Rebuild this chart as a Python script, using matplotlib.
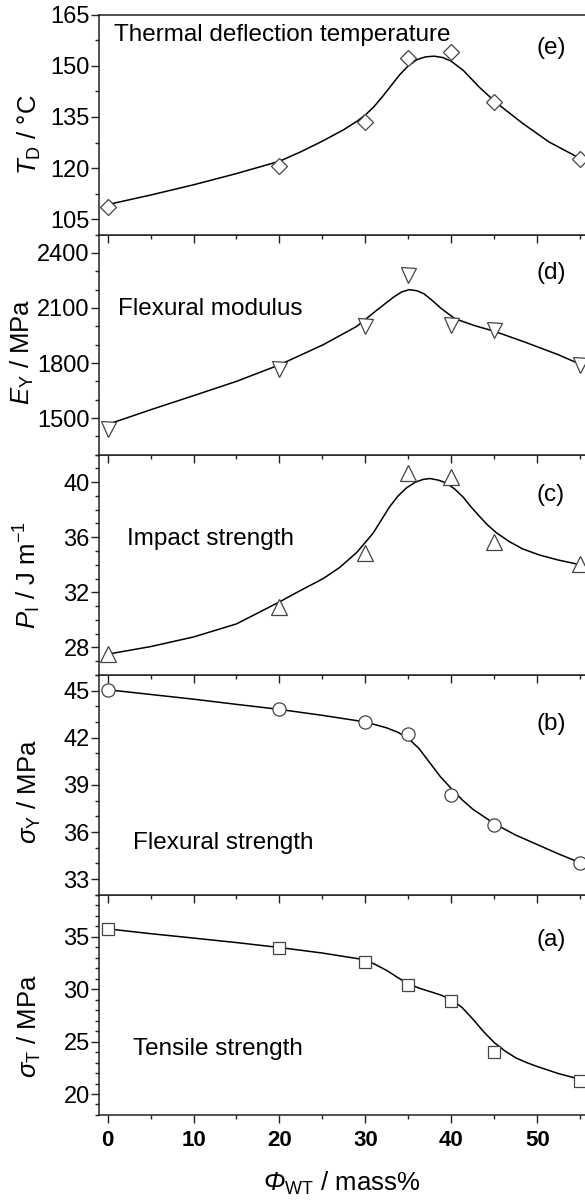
import matplotlib.pyplot as plt
from matplotlib.ticker import MultipleLocator

plt.rcParams["font.family"] = ["Liberation Sans", "DejaVu Sans"]
plt.rcParams["mathtext.fontset"] = "custom"
plt.rcParams["mathtext.rm"] = "Liberation Sans"
plt.rcParams["mathtext.it"] = "Liberation Sans:italic"
plt.rcParams["mathtext.sf"] = "Liberation Sans:italic"

# WT content of the samples, mass%
content = [0, 20, 30, 35, 40, 45, 55]

# measured values
tensile_strength = [35.76, 33.98, 32.64, 30.38, 28.9, 24.0, 21.27]
flexural_strength = [45.05, 43.8, 43.0, 42.25, 38.33, 36.47, 34.04]
impact_strength = [27.5, 30.9, 34.88, 40.7, 40.39, 35.64, 34.03]
flexural_modulus = [1440, 1765, 2000, 2282, 2009, 1982, 1791]
deflection_temp = [108.7, 120.5, 133.5, 152.4, 154.1, 139.4, 122.6]

# guide curves
tensile_curve_x = [0, 5, 10, 15, 20, 25, 30, 31.25, 32.5, 33.75, 35, 36.25,
                   37.5, 38.75, 40, 41.25, 42.5, 43.75, 45, 46.25, 47.5, 48.75,
                   50, 52.5, 55]
tensile_curve_y = [35.76, 35.3, 34.88, 34.45, 33.98, 33.45, 32.8, 32.32, 31.78,
                   31.12, 30.52, 30.1, 29.78, 29.45, 29.02, 28.25, 27.15, 25.95,
                   24.9, 24.1, 23.45, 23.0, 22.62, 21.94, 21.4]

flexural_curve_x = [0, 5, 10, 15, 20, 25, 30, 32.5, 33.75, 35, 36.25, 37.5,
                    38.75, 40, 41.25, 42.5, 45, 47.5, 50, 52.5, 55]
flexural_curve_y = [45.05, 44.75, 44.45, 44.12, 43.8, 43.42, 43.0, 42.62, 42.35,
                    41.95, 41.3, 40.4, 39.5, 38.76, 38.05, 37.45, 36.53, 35.8,
                    35.2, 34.6, 34.04]

impact_curve_x = [0, 5, 10, 15, 20, 22.5, 25.1, 27, 29, 30.9, 32, 32.8, 33.8,
                  34.8, 35.8, 36.7, 37.5, 38.5, 39.4, 40.4, 41.4, 42.3, 43.3,
                  44.2, 45.2, 46.7, 48.3, 50.3, 52.4, 55]
impact_curve_y = [27.5, 28.05, 28.75, 29.7, 31.3, 32.15, 33.0, 33.8, 34.9, 36.3,
                  37.4, 38.2, 39.0, 39.6, 40.0, 40.2, 40.27, 40.15, 39.95, 39.5,
                  38.9, 38.2, 37.5, 36.9, 36.35, 35.7, 35.15, 34.7, 34.35, 34.0]

modulus_curve_x = [0, 5, 10, 15, 20, 25.1, 29.0, 31.4, 33.3, 34.2, 35.1, 36.0,
                   36.8, 37.8, 38.8, 40.4, 42.7, 45.0, 48.5, 52.4, 55]
modulus_curve_y = [1465, 1545, 1622, 1700, 1790, 1900, 2000, 2091, 2160, 2187,
                   2200, 2194, 2178, 2140, 2098, 2042, 2004, 1973, 1915, 1846,
                   1793]

temp_curve_x = [0, 5, 10, 15, 20, 22.5, 25, 27.5, 29, 30, 31, 32, 33, 34, 35,
                36, 37, 38, 39, 40, 41.4, 43.3, 45.2, 48.3, 51.4, 55]
temp_curve_y = [109.3, 112.1, 115.1, 118.4, 122.0, 124.8, 127.9, 131.3, 133.7,
                135.6, 138.0, 141.0, 144.2, 147.4, 150.0, 151.8, 152.6, 152.8,
                152.4, 151.3, 148.6, 143.6, 139.2, 133.1, 127.6, 122.8]

panel_titles = ["Tensile strength", "Flexural strength", "Impact strength",
                "Flexural modulus", "Thermal deflection temperature"]
panel_tags = ["(a)", "(b)", "(c)", "(d)", "(e)"]
y_labels = [r"$\sigma_{\mathrm{T}}$ / MPa",
            r"$\sigma_{\mathrm{Y}}$ / MPa",
            r"$P_{\mathrm{I}}$ / J m$^{\mathrm{-1}}$",
            r"$E_{\mathrm{Y}}$ / MPa",
            r"$T_{\mathrm{D}}$ / °C"]
label_x = [-0.115, -0.115, -0.115, -0.13, -0.115]


def style_axes(ax, ylim, major, minor):
    ax.set_xlim(-1, 55.55)
    ax.set_ylim(*ylim)
    ax.xaxis.set_major_locator(MultipleLocator(10))
    ax.xaxis.set_minor_locator(MultipleLocator(5))
    ax.yaxis.set_major_locator(MultipleLocator(major))
    ax.yaxis.set_minor_locator(MultipleLocator(minor))
    ax.tick_params(which="both", direction="out", top=False, right=False,
                   color="#222222", width=1.0)
    ax.tick_params(which="major", length=5.5, labelsize=17, pad=1.2)
    ax.tick_params(which="minor", length=3)
    ax.tick_params(axis="x", which="major", length=6, pad=5)
    ax.spines["right"].set_visible(False)
    for side in ["left", "bottom", "top"]:
        ax.spines[side].set_linewidth(1.1)
        ax.spines[side].set_color("#222222")


fig = plt.figure(figsize=(5.85, 12.02), dpi=100)

panels = [
    (content, tensile_strength, tensile_curve_x, tensile_curve_y, "s", 8.3,
     (18, 39), 5, 1, (2.9, 23.69), 34.67, 0.405),
    (content, flexural_strength, flexural_curve_x, flexural_curve_y, "o", 9.5,
     (32, 46), 3, 1, (3.0, 34.9), 42.84, 0.468),
    (content, impact_strength, impact_curve_x, impact_curve_y, "^", 11,
     (26, 42), 4, 1, (2.25, 35.44), 39.04, 0.455),
    (content, flexural_modulus, modulus_curve_x, modulus_curve_y, "v", 10.8,
     (1300, 2500), 300, 100, (1.16, 2063), 2292, 0.468),
    (content, deflection_temp, temp_curve_x, temp_curve_y, "D", 8.3,
     (100.5, 165), 15, 7.5, (0.73, 157.2), 155.3, 0.453),
]

axes = []
for i, (xs, ys, cx, cy, marker, size, ylim, major, minor, title_pos, tag_y,
        label_y) in enumerate(panels):
    ax = fig.add_axes([0.1692, 0.0724 + i * 0.1831, 0.8308, 0.1831])
    style_axes(ax, ylim, major, minor)
    ax.plot(cx, cy, color="black", linewidth=1.1, zorder=2)
    ax.plot(xs, ys, linestyle="none", marker=marker, markersize=size,
            markerfacecolor="white", markeredgecolor="#444444",
            markeredgewidth=0.9, zorder=3)
    ax.text(title_pos[0], title_pos[1], panel_titles[i], fontsize=17.5,
            va="baseline", ha="left")
    ax.text(51.6, tag_y, panel_tags[i], fontsize=17.5, va="center", ha="center")
    ax.set_ylabel(y_labels[i], fontsize=18.5)
    ax.yaxis.set_label_coords(label_x[i], label_y)
    if i > 0:
        ax.tick_params(axis="x", labelbottom=False)
    axes.append(ax)

bottom_ax = axes[0]
for label in bottom_ax.get_xticklabels():
    label.set_fontweight("bold")
    label.set_fontsize(16)
bottom_ax.set_xlabel(r"$\mathsf{\Phi}_{\mathrm{WT}}$ / mass%", fontsize=18.5)
bottom_ax.xaxis.set_label_coords(0.5, -0.25)

fig.savefig("out.png", dpi=100)
